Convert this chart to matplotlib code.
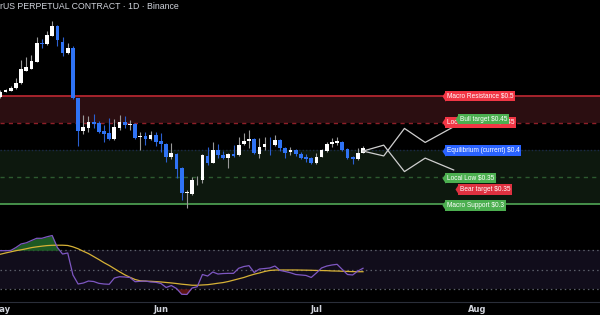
import numpy as np
import matplotlib
matplotlib.use("Agg")
import matplotlib.pyplot as plt

plt.rcParams['text.parse_math'] = False

# ---------------- data ----------------
title = "rUS PERPETUAL CONTRACT · 1D · Binance"
month_labels = ["May", "Jun", "Jul", "Aug"]
month_days = [0, 31, 61, 92]

opens = [0.4982, 0.5074, 0.5093, 0.5139, 0.5232, 0.5472, 0.5509, 0.5635, 0.5982, 0.5954,
         0.6117, 0.6297, 0.5991, 0.5797, 0.5898, 0.4954, 0.4358, 0.4413, 0.4524, 0.4495,
         0.4352, 0.4310, 0.4204, 0.4413, 0.4513, 0.4463, 0.4482, 0.4241, 0.4260, 0.4198,
         0.4278, 0.4167, 0.4111, 0.3865, 0.3926, 0.3661, 0.3204, 0.3185, 0.3454, 0.3445,
         0.3895, 0.3765, 0.4000, 0.3908, 0.3858, 0.3921, 0.3908, 0.4106, 0.4167, 0.4204,
         0.3921, 0.4061, 0.4093, 0.4093, 0.4185, 0.4043, 0.3958, 0.4000, 0.3921, 0.3876,
         0.3858, 0.3754, 0.3876, 0.3982, 0.4106, 0.4135, 0.4154, 0.4019, 0.3865, 0.3828,
         0.3950]
closes = [0.5074, 0.5102, 0.5148, 0.5241, 0.5491, 0.5528, 0.5648, 0.5976, 0.5954, 0.6121,
          0.6302, 0.6037, 0.5797, 0.5898, 0.4954, 0.4361, 0.4432, 0.4524, 0.4482, 0.4339,
          0.4297, 0.4204, 0.4432, 0.4524, 0.4463, 0.4476, 0.4217, 0.4250, 0.4204, 0.4278,
          0.4154, 0.4111, 0.3876, 0.3939, 0.3648, 0.3198, 0.3213, 0.3445, 0.3463, 0.3908,
          0.3765, 0.4000, 0.3908, 0.3858, 0.3921, 0.3895, 0.4093, 0.4167, 0.4204, 0.3939,
          0.4061, 0.4106, 0.4084, 0.4185, 0.4032, 0.3939, 0.4000, 0.3921, 0.3847, 0.3828,
          0.3754, 0.3876, 0.4000, 0.4111, 0.4154, 0.4167, 0.4000, 0.3847, 0.3828, 0.3950,
          0.4032]
highs = [0.5111, 0.5121, 0.5185, 0.5334, 0.5658, 0.5722, 0.5760, 0.6093, 0.6056, 0.6204,
         0.6398, 0.6315, 0.6093, 0.5982, 0.5917, 0.4972, 0.4648, 0.4630, 0.4661, 0.4537,
         0.4463, 0.4587, 0.4574, 0.4648, 0.4635, 0.4556, 0.4500, 0.4339, 0.4328, 0.4352,
         0.4334, 0.4315, 0.4130, 0.4124, 0.3945, 0.3685, 0.3260, 0.3506, 0.3519, 0.3926,
         0.4061, 0.4143, 0.4111, 0.3982, 0.3945, 0.4093, 0.4247, 0.4310, 0.4371, 0.4222,
         0.4228, 0.4247, 0.4247, 0.4278, 0.4204, 0.4056, 0.4061, 0.4019, 0.3969, 0.3921,
         0.3871, 0.3939, 0.4019, 0.4154, 0.4217, 0.4247, 0.4167, 0.4037, 0.3889, 0.4032,
         0.4074]
lows = [0.4963, 0.5065, 0.5084, 0.5130, 0.5222, 0.5454, 0.5500, 0.5630, 0.5898, 0.5945,
        0.6111, 0.5926, 0.5750, 0.5778, 0.4945, 0.4074, 0.4291, 0.4339, 0.4413, 0.4315,
        0.4154, 0.4185, 0.4176, 0.4371, 0.4413, 0.4371, 0.4204, 0.4000, 0.4093, 0.4185,
        0.4074, 0.3969, 0.3784, 0.3828, 0.3476, 0.3074, 0.2921, 0.3167, 0.3352, 0.3384,
        0.3722, 0.3760, 0.3852, 0.3834, 0.3661, 0.3871, 0.3889, 0.4093, 0.4032, 0.3917,
        0.3852, 0.4000, 0.3908, 0.4074, 0.3982, 0.3858, 0.3908, 0.3898, 0.3834, 0.3784,
        0.3741, 0.3741, 0.3871, 0.3963, 0.4061, 0.4093, 0.3982, 0.3834, 0.3732, 0.3815,
        0.3939]

rsi = [69.6, 69.6, 69.8, 72.9, 76.6, 77.8, 80.2, 82.5, 82.5, 84.1,
       85.4, 72.9, 66.1, 67.2, 44.3, 34.9, 35.9, 38.0, 37.5, 35.6,
       34.9, 34.6, 41.1, 42.5, 42.2, 41.7, 37.3, 37.7, 38.0, 37.0,
       36.7, 35.4, 31.3, 33.3, 30.2, 24.2, 24.0, 30.7, 32.1, 44.8,
       43.2, 47.4, 45.3, 45.8, 46.0, 46.0, 51.3, 53.1, 54.0, 46.9,
       50.5, 51.0, 51.6, 53.6, 49.0, 47.9, 46.6, 44.8, 44.3, 43.8,
       41.7, 46.4, 51.6, 53.6, 54.7, 55.4, 50.0, 44.8, 44.3, 48.4,
       51.3]
rsi_ma = [65.9, 67.2, 68.4, 69.6, 70.5, 71.6, 72.8, 73.6, 74.3, 74.9,
          75.2, 75.3, 75.3, 75.0, 73.6, 71.6, 69.0, 66.6, 63.5, 60.4,
          57.1, 54.2, 50.9, 47.6, 44.5, 41.9, 39.6, 38.2, 37.9, 37.7,
          37.4, 37.0, 36.5, 36.0, 35.4, 34.7, 34.2, 33.6, 33.6, 33.9,
          34.2, 34.9, 35.7, 36.4, 37.5, 38.9, 40.3, 41.7, 43.5, 45.1,
          46.4, 47.9, 49.0, 49.4, 49.5, 49.5, 49.5, 49.5, 49.4, 49.3,
          49.2, 49.0, 48.9, 48.8, 48.5, 48.4, 48.2, 48.0, 47.8, 47.7,
          47.7]

level_names = ["Macro Resistance", "Local Resistance", "Equilibrium (current)",
               "Local Low", "Macro Support"]
level_values = [0.5, 0.45, 0.4, 0.35, 0.3]
target_names = ["Bull target", "Bear target"]
target_values = [0.45, 0.35]

proj_days = [70, 74, 78, 82, 87.5]
bull_path = [0.398, 0.389, 0.440, 0.414, 0.443]
bear_path = [0.398, 0.409, 0.360, 0.385, 0.363]

rsi_levels = [70, 50, 30]

# ---------------- styling ----------------
BG = "#000000"
UP = "#ffffff"
DOWN = "#2f73f5"
UP_WICK = "#9a9a9a"
DOWN_WICK = "#2a5fd0"
RED = "#f23645"
RED2 = "#de3140"
GREEN = "#4caf50"
BLUE = "#2962ff"
LFONT = "Liberation Sans"

fig = plt.figure(figsize=(6, 3.15), dpi=100, facecolor=BG)
ax = fig.add_axes([0, 90 / 315, 1, 225 / 315])
ax2 = fig.add_axes([0, 13 / 315, 1, 77 / 315], sharex=ax)
for a in (ax, ax2):
    a.set_facecolor(BG)
    for s in a.spines.values():
        s.set_visible(False)

xmin, xmax = -0.077, 115.75
ax.set_xlim(xmin, xmax)
ax.set_ylim(0.2611, 0.6778)
ax2.set_ylim(16.15, 96.35)

# zones and levels
ax.axhspan(level_values[1], level_values[0], color="#2b0e11", zorder=0, lw=0)
ax.axhspan(level_values[4], level_values[2], color="#0d180e", zorder=0, lw=0)
ax.axhline(level_values[0], color="#b3262f", lw=1.3, zorder=1)
ax.axhline(level_values[1], color="#8f1f28", lw=1.0, ls=(0, (3, 3)), zorder=1)
ax.axhline(level_values[2], color="#1b2a48", lw=1.0, ls=(0, (1, 1.5)), zorder=1)
ax.axhline(level_values[3], color="#2c5a2f", lw=1.0, ls=(0, (3, 3)), zorder=1)
ax.axhline(level_values[4], color="#4b9a4f", lw=1.3, zorder=1)

# candles
days = np.arange(len(opens))
o = np.array(opens); c = np.array(closes); h = np.array(highs); l = np.array(lows)
up = c >= o
wick_cols = np.where(up, UP_WICK, DOWN_WICK)
ax.vlines(days, l, h, colors=wick_cols, lw=0.8, zorder=2)
body_bottom = np.minimum(o, c)
body_h = np.maximum(np.abs(c - o), 0.0012)
ax.bar(days, body_h, bottom=body_bottom, width=0.72,
       color=np.where(up, UP, DOWN), lw=0, zorder=3)

# projection paths
ax.plot(proj_days, bull_path, color="#cfcfcf", lw=0.9, zorder=4)
ax.plot(proj_days, bear_path, color="#cfcfcf", lw=0.9, zorder=4)

# tags
FS = 4.7
PAD = 0.27
H_PT = 7.6
W_PT = 2.5


def tag(x_tip, y, text, color, z):
    a = W_PT / H_PT
    ax.plot([x_tip], [y], marker=[(0, 0), (a, 0.5), (a, -0.5), (0, 0)], ms=H_PT,
            color=color, mec="none", zorder=z, clip_on=False)
    ax.annotate(text, xy=(x_tip, y), xytext=(W_PT + PAD * FS, 0),
                textcoords="offset points", ha="left", va="center",
                fontsize=FS, color="white", family=LFONT,
                bbox=dict(boxstyle=f"square,pad={PAD}", fc=color, ec="none"),
                zorder=z)


tip_x = 85.2
tag_colors = [RED, RED, BLUE, GREEN, GREEN]
tag_shift = [0.0, 0.0012, -0.001, -0.0018, -0.0024]
for name, v, col, sh in zip(level_names, level_values, tag_colors, tag_shift):
    tag(tip_x, v + sh, f"{name} ${v:g}", col, 6)
tag(87.7, target_values[0] + 0.0074, f"{target_names[0]} ${target_values[0]:g}", GREEN, 8)
tag(87.7, target_values[1] - 0.0231, f"{target_names[1]} ${target_values[1]:g}", RED2, 8)

ax.text(0.0, 0.969, title, transform=ax.transAxes, ha="left", va="center",
        fontsize=6.35, color="#d1d4dc", family=LFONT)
ax.set_xticks([]); ax.set_yticks([])

# oscillator
ax2.axhspan(rsi_levels[2], rsi_levels[0], color="#110d1b", lw=0, zorder=0)
for lv in rsi_levels:
    ax2.axhline(lv, color="#5d606b", lw=0.9, ls=(0, (1.2, 2.5)), zorder=1)
r = np.array(rsi)
ax2.fill_between(days, r, rsi_levels[0], where=r > rsi_levels[0], interpolate=True,
                 color="#1d5a24", lw=0, zorder=2)
ax2.fill_between(days, r, rsi_levels[2], where=r < rsi_levels[2], interpolate=True,
                 color="#5a1414", lw=0, zorder=2)
ax2.plot(days, rsi_ma, color="#d7b236", lw=0.9, zorder=3)
ax2.plot(days, rsi, color="#7e57c2", lw=0.9, zorder=4)

ax2.spines["bottom"].set_visible(True)
ax2.spines["bottom"].set_color("#2a2e39")
ax2.spines["bottom"].set_linewidth(0.8)
ax2.set_yticks([])
ax2.set_xticks(month_days)
ax2.set_xticklabels(month_labels)
ax2.tick_params(axis="x", length=0, pad=2.5, labelsize=6, colors="#d1d4dc")
for t in ax2.get_xticklabels():
    t.set_fontweight("bold")
plt.setp(ax.get_xticklabels(), visible=False)

fig.savefig("out.png", dpi=100, facecolor=BG)
